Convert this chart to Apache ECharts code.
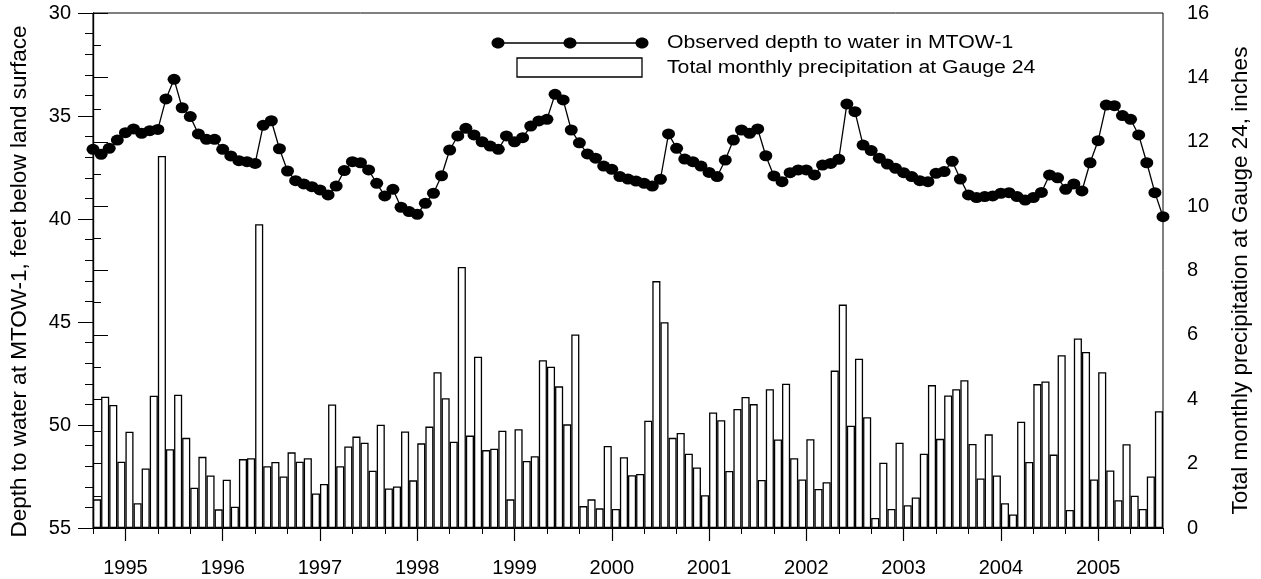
<!DOCTYPE html>
<html><head><meta charset="utf-8">
<script src="https://cdn.jsdelivr.net/npm/echarts@6/dist/echarts.min.js"></script>
<style>html,body{margin:0;padding:0;background:#fff}#c{width:1261px;height:579px}</style>
</head><body><div id="c"></div>
<script>
// Months counted from September 1994 (index 0)
const yearTickMonths = [4,16,28,40,52,64,76,88,100,112,124];
const yearLabels = ['1995','1996','1997','1998','1999','2000','2001','2002','2003','2004','2005'];

// Observed depth to water in MTOW-1 (feet below land surface), monthly Sep 1994 - Sep 2005
const depth = [
36.62,36.86,36.57,36.17,35.81,35.63,35.84,35.71,35.65,34.17,33.22,34.60,
35.03,35.87,36.13,36.13,36.62,36.94,37.17,37.22,37.30,35.45,35.23,36.59,
37.67,38.14,38.30,38.43,38.59,38.83,38.40,37.65,37.22,37.27,37.62,38.27,
38.88,38.56,39.43,39.64,39.77,39.24,38.75,37.90,36.65,35.97,35.60,35.92,
36.25,36.46,36.62,35.97,36.25,36.05,35.49,35.24,35.16,33.95,34.22,35.68,
36.30,36.84,37.05,37.43,37.59,37.94,38.06,38.16,38.27,38.40,38.07,35.87,
36.57,37.09,37.22,37.43,37.74,37.94,37.14,36.17,35.68,35.84,35.63,36.93,
37.91,38.19,37.75,37.62,37.62,37.86,37.38,37.30,37.10,34.42,34.79,36.41,
36.68,37.05,37.33,37.54,37.75,37.94,38.14,38.19,37.78,37.70,37.20,38.06,
38.83,38.96,38.91,38.88,38.75,38.72,38.91,39.08,38.96,38.71,37.86,38.00,
38.56,38.30,38.64,37.27,36.20,34.47,34.50,34.98,35.16,35.92,37.27,38.72,
39.89];

// Total monthly precipitation at Gauge 24 (inches), Sep 1994 - Aug 2005
const precip = [
0.89,4.08,3.82,2.06,2.99,0.77,1.85,4.11,11.56,2.45,4.14,2.80,
1.25,2.21,1.63,0.58,1.50,0.66,2.14,2.17,9.44,1.92,2.05,1.60,
2.35,2.06,2.17,1.07,1.37,3.84,1.92,2.53,2.84,2.65,1.78,3.21,
1.23,1.29,3.00,1.48,2.63,3.15,4.84,4.03,2.68,8.11,2.87,5.32,
2.42,2.46,3.02,0.89,3.07,2.08,2.23,5.21,5.01,4.40,3.22,6.01,
0.68,0.89,0.61,2.55,0.59,2.20,1.64,1.68,3.33,7.67,6.39,2.80,
2.95,2.31,1.88,1.02,3.59,3.35,1.77,3.70,4.07,3.85,1.49,4.31,
2.75,4.48,2.17,1.51,2.76,1.21,1.42,4.89,6.94,3.18,5.26,3.44,
0.31,2.03,0.59,2.65,0.71,0.95,2.31,4.44,2.77,4.12,4.31,4.59,
2.61,1.54,2.91,1.63,0.77,0.42,3.30,2.05,4.47,4.55,2.28,5.37,
0.56,5.89,5.47,1.51,4.84,1.79,0.86,2.60,1.00,0.59,1.60,3.63];

const leftTitle = 'Depth to water at MTOW-1, feet below land surface';
const rightTitle = 'Total monthly precipitation at Gauge 24, inches';
const legendLine = 'Observed depth to water in MTOW-1';
const legendBar = 'Total monthly precipitation at Gauge 24';

const FONT = 'Liberation Sans';
const chart = echarts.init(document.getElementById('c'), null, {renderer:'canvas'});
const black = '#000';

chart.setOption({
  animation:false,
  backgroundColor:'#fff',
  textStyle:{fontFamily:FONT, color:black},
  grid:{left:91, right:98, top:13, bottom:51, show:true, borderColor:black, borderWidth:1, backgroundColor:'transparent'},
  xAxis:[{
    type:'value', min:0, max:132, interval:4,
    axisLine:{show:true, lineStyle:{color:black, width:1}},
    axisTick:{show:true, length:6, lineStyle:{color:black, width:1}},
    axisLabel:{show:false}, splitLine:{show:false}
  },{
    type:'value', min:0, max:132, position:'bottom',
    axisLine:{show:false},
    axisTick:{show:true, length:13, customValues:yearTickMonths, lineStyle:{color:black, width:1.2}},
    axisLabel:{show:true, customValues:yearTickMonths, margin:30, fontSize:20, color:black, fontFamily:FONT,
      formatter:(v)=>{const k=yearTickMonths.indexOf(Math.round(v)); return k>=0?yearLabels[k]:'';}},
    splitLine:{show:false}
  }],
  yAxis:[{
    type:'value', inverse:true, min:30, max:55, interval:5, position:'left',
    name:leftTitle, nameLocation:'middle', nameGap:62, nameRotate:90,
    nameTextStyle:{fontSize:22.5, color:black, fontFamily:FONT, padding:[0,22,0,0]},
    axisLine:{show:true, lineStyle:{color:black, width:1.2}},
    axisTick:{show:true, length:15, lineStyle:{color:black, width:1}},
    minorTick:{show:true, splitNumber:5, length:8, lineStyle:{color:black, width:1}},
    axisLabel:{fontSize:20, color:black, margin:22, fontFamily:FONT},
    splitLine:{show:false}
  },{
    type:'value', min:0, max:16, interval:2, position:'right',
    name:rightTitle, nameLocation:'middle', nameGap:66, nameRotate:90,
    nameTextStyle:{fontSize:22.5, color:black, fontFamily:FONT, padding:[0,20,0,0]},
    axisLine:{show:true, lineStyle:{color:black, width:1.2}},
    axisTick:{show:true, length:15, lineStyle:{color:black, width:1}},
    minorTick:{show:true, splitNumber:2, length:8, lineStyle:{color:black, width:1}},
    axisLabel:{fontSize:20, color:black, margin:24, fontFamily:FONT},
    splitLine:{show:false}
  }],
  series:[{
    name:legendBar, type:'bar', xAxisIndex:0, yAxisIndex:1,
    barWidth:8.1,
    data:precip.map((v,i)=>[i+0.5, v]),
    itemStyle:{color:'#fff', borderColor:black, borderWidth:1.3},
    z:2
  },{
    name:legendLine, type:'line', xAxisIndex:0, yAxisIndex:0,
    data:depth.map((v,i)=>[i, v]),
    symbol:'circle', symbolSize:[13,11],
    itemStyle:{color:black},
    lineStyle:{color:black, width:1.3},
    clip:false,
    z:5
  }],
  graphic:[
    {type:'line', shape:{x1:498, y1:43, x2:642, y2:43}, style:{stroke:black, lineWidth:1.3}, z:10},
    {type:'ellipse', shape:{cx:498, cy:43, rx:6.5, ry:5.5}, style:{fill:black}, z:11},
    {type:'ellipse', shape:{cx:570, cy:43, rx:6.5, ry:5.5}, style:{fill:black}, z:11},
    {type:'ellipse', shape:{cx:642, cy:43, rx:6.5, ry:5.5}, style:{fill:black}, z:11},
    {type:'rect', shape:{x:517, y:58, width:125, height:19}, style:{fill:'#fff', stroke:black, lineWidth:1.3}, z:10},
    {type:'text', x:667, y:43, scaleX:1.18, style:{text:legendLine, fill:black, font:'18px "Liberation Sans"', textVerticalAlign:'middle'}, z:10},
    {type:'text', x:667, y:68, scaleX:1.18, style:{text:legendBar, fill:black, font:'18px "Liberation Sans"', textVerticalAlign:'middle'}, z:10}
  ]
});
</script>
</body></html>
